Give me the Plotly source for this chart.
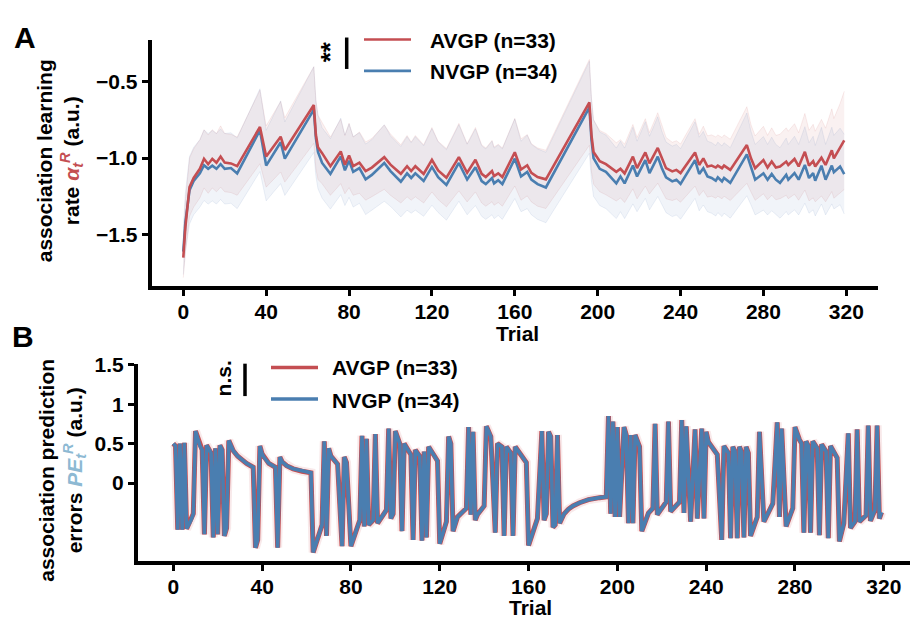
import numpy as np
import plotly.graph_objects as go

W, H = 910, 624

# ---------------- Panel A : association learning rate ----------------
a_trial = [0, 1, 3, 5, 8, 10, 12, 14, 16, 18, 20, 23, 26, 37, 40, 47, 49, 63, 64, 65,
           67, 71, 76, 78, 80, 82, 85, 88, 91, 97, 100, 105, 108, 110, 112, 116, 120, 123, 127, 133,
           137, 141, 144, 146, 149, 150, 152, 154, 160, 163, 166, 168, 171, 175, 196, 197, 198, 201, 204, 209,
           211, 213, 217, 219, 223, 225, 229, 231, 233, 236, 238, 240, 247, 249, 251, 253, 255, 257, 258, 260,
           261, 264, 272, 274, 276, 280, 282, 284, 286, 288, 291, 292, 295, 297, 300, 302, 304, 305, 308, 310,
           313, 314, 317, 319]
a_avgp = [-1.65, -1.45, -1.19, -1.13, -1.07, -1.005, -1.04, -1.005, -1.03, -0.99, -1.03, -1.035, -1.053, -0.797, -0.99, -0.861, -0.947, -0.654, -0.85, -0.93,
          -0.968, -1.053, -0.957, -1.043, -0.983, -1.053, -1.03, -1.085, -1.062, -0.994, -1.043, -1.103, -1.053, -1.085, -1.053, -1.103, -1.011, -1.081, -1.128, -0.994,
          -1.096, -1.011, -1.103, -1.124, -1.085, -1.118, -1.10, -1.124, -0.962, -1.075, -1.047, -1.096, -1.124, -1.139, -0.637, -0.85, -0.96, -1.02, -1.04, -1.09,
          -1.07, -1.10, -0.991, -1.066, -0.963, -1.034, -0.934, -1.002, -1.066, -1.087, -1.077, -1.098, -0.963, -1.045, -1.002, -1.055, -1.049, -1.062, -1.049, -1.066,
          -1.049, -1.077, -0.915, -1.002, -1.066, -1.013, -1.062, -1.023, -1.062, -1.055, -1.023, -1.045, -1.006, -1.055, -0.959, -1.049, -1.02, -1.055, -0.998, -1.045,
          -0.949, -1.002, -0.934, -0.885]
a_nvgp = [-1.61, -1.42, -1.21, -1.15, -1.10, -1.047, -1.07, -1.05, -1.07, -1.04, -1.07, -1.065, -1.10, -0.818, -1.049, -0.897, -1.004, -0.684, -0.87, -0.96,
          -1.032, -1.103, -0.989, -1.08, -1.017, -1.09, -1.065, -1.139, -1.11, -1.032, -1.085, -1.154, -1.10, -1.13, -1.10, -1.15, -1.058, -1.125, -1.175, -1.032,
          -1.14, -1.06, -1.15, -1.17, -1.13, -1.165, -1.145, -1.17, -1.004, -1.12, -1.09, -1.14, -1.17, -1.192, -0.669, -0.88, -1.00, -1.07, -1.09, -1.165,
          -1.12, -1.165, -1.049, -1.12, -1.013, -1.098, -0.991, -1.066, -1.126, -1.152, -1.141, -1.169, -1.013, -1.104, -1.066, -1.12, -1.13, -1.148, -1.126, -1.152,
          -1.13, -1.162, -0.976, -1.066, -1.141, -1.10, -1.141, -1.104, -1.141, -1.162, -1.109, -1.141, -1.098, -1.141, -1.045, -1.13, -1.098, -1.148, -1.05, -1.141,
          -1.049, -1.092, -1.055, -1.105]
a_avgp_sem = [0.13, 0.17, 0.19, 0.19, 0.19, 0.19, 0.19, 0.19, 0.19, 0.20, 0.19, 0.19, 0.19, 0.24, 0.20, 0.23, 0.21, 0.25, 0.22, 0.21,
              0.20, 0.19, 0.21, 0.19, 0.21, 0.19, 0.20, 0.19, 0.19, 0.21, 0.20, 0.19, 0.20, 0.19, 0.20, 0.19, 0.21, 0.19, 0.19, 0.22,
              0.19, 0.21, 0.19, 0.19, 0.20, 0.19, 0.19, 0.19, 0.22, 0.20, 0.20, 0.19, 0.19, 0.19, 0.28, 0.24, 0.21, 0.20, 0.20, 0.19,
              0.19, 0.19, 0.21, 0.20, 0.22, 0.20, 0.23, 0.21, 0.20, 0.19, 0.19, 0.19, 0.22, 0.20, 0.21, 0.20, 0.20, 0.20, 0.20, 0.20,
              0.20, 0.20, 0.25, 0.22, 0.21, 0.22, 0.21, 0.22, 0.21, 0.21, 0.22, 0.22, 0.23, 0.22, 0.25, 0.23, 0.24, 0.23, 0.25, 0.24,
              0.27, 0.26, 0.29, 0.32]
a_nvgp_sem = [0.15, 0.19, 0.22, 0.22, 0.22, 0.23, 0.23, 0.23, 0.23, 0.23, 0.23, 0.23, 0.23, 0.27, 0.23, 0.27, 0.24, 0.28, 0.25, 0.24,
              0.23, 0.23, 0.25, 0.23, 0.24, 0.23, 0.23, 0.23, 0.23, 0.25, 0.23, 0.23, 0.24, 0.23, 0.24, 0.23, 0.25, 0.23, 0.23, 0.25,
              0.23, 0.25, 0.23, 0.23, 0.24, 0.23, 0.23, 0.23, 0.26, 0.23, 0.24, 0.23, 0.23, 0.23, 0.30, 0.27, 0.25, 0.24, 0.24, 0.23,
              0.23, 0.23, 0.25, 0.23, 0.25, 0.24, 0.26, 0.24, 0.23, 0.23, 0.23, 0.23, 0.25, 0.24, 0.24, 0.23, 0.23, 0.23, 0.23, 0.23,
              0.23, 0.23, 0.27, 0.24, 0.23, 0.24, 0.23, 0.24, 0.23, 0.23, 0.24, 0.23, 0.24, 0.23, 0.25, 0.23, 0.24, 0.23, 0.25, 0.23,
              0.25, 0.24, 0.25, 0.26]

# ---------------- Panel B : association prediction errors ----------------
b_trial = [0, 1, 2, 3, 4, 5, 6, 8, 9, 10, 12, 13, 14, 15, 17, 18, 19, 20, 21, 22,
           23, 24, 25, 26, 27, 29, 31, 33, 36, 37, 38, 39, 40, 41, 43, 46, 47, 48, 49, 51,
           54, 58, 62, 63, 67, 68, 69, 70, 71, 74, 76, 77, 78, 80, 83, 84, 85, 86, 87, 88,
           90, 91, 92, 93, 96, 97, 98, 99, 100, 102, 103, 104, 107, 108, 109, 111, 112, 113, 114, 115,
           119, 120, 123, 124, 125, 126, 128, 132, 133, 134, 135, 136, 137, 140, 141, 143, 145, 146, 148, 149,
           150, 152, 153, 154, 156, 159, 160, 164, 166, 167, 168, 169, 170, 171, 172, 173, 174, 175, 176, 178,
           180, 183, 187, 192, 195, 196, 197, 198, 199, 200, 201, 203, 204, 205, 206, 207, 208, 210, 211, 214,
           216, 217, 218, 222, 223, 224, 228, 229, 230, 231, 233, 235, 236, 238, 239, 240, 241, 245, 247, 248,
           250, 251, 252, 253, 254, 255, 256, 257, 258, 259, 260, 263, 264, 266, 270, 272, 273, 274, 276, 279,
           280, 282, 283, 284, 285, 286, 287, 288, 290, 291, 292, 294, 295, 296, 299, 300, 302, 304, 305, 307,
           308, 309, 312, 313, 314, 316, 317, 318, 319]
b_avgp = [0.50, 0.47, -0.59, 0.50, -0.59, 0.51, -0.58, -0.47, -0.39, 0.66, 0.47, 0.42, -0.65, 0.48, 0.38, -0.69, 0.44, -0.65, 0.48, 0.42,
          -0.67, -0.57, 0.54, 0.46, 0.41, 0.34, 0.29, 0.25, 0.20, -0.82, -0.72, 0.47, 0.37, 0.32, 0.25, 0.20, -0.82, 0.33, 0.27, 0.22,
          0.18, 0.15, 0.13, -0.88, -0.53, 0.53, -0.67, 0.44, 0.34, 0.24, -0.80, 0.33, 0.26, -0.80, -0.53, -0.47, 0.60, -0.55, 0.56, -0.53,
          -0.47, 0.62, -0.51, -0.47, -0.34, 0.69, -0.45, -0.39, 0.66, 0.50, -0.61, 0.50, 0.36, -0.72, 0.42, 0.34, -0.73, 0.40, -0.69, 0.46,
          0.28, -0.77, -0.49, 0.59, 0.50, -0.61, -0.43, -0.32, 0.71, -0.40, 0.65, -0.47, -0.40, -0.29, 0.72, 0.59, -0.63, 0.50, 0.46, -0.67,
          0.46, 0.38, -0.67, 0.46, 0.38, 0.26, -0.79, -0.45, 0.66, -0.47, -0.39, 0.65, 0.59, -0.56, -0.53, 0.61, -0.51, -0.44, -0.39, -0.33,
          -0.29, -0.25, -0.21, -0.185, -0.175, 0.85, -0.39, 0.78, -0.43, 0.71, -0.43, 0.71, 0.61, -0.51, 0.61, -0.51, 0.61, 0.46, -0.61, -0.38,
          -0.32, 0.75, -0.40, -0.24, 0.78, -0.36, -0.24, 0.80, -0.38, 0.72, -0.49, 0.68, -0.45, 0.69, -0.45, 0.65, 0.52, 0.36, -0.72, 0.47,
          0.38, -0.70, 0.46, 0.40, -0.70, 0.46, 0.39, -0.69, 0.46, 0.38, -0.67, -0.43, 0.65, -0.49, -0.26, 0.77, -0.43, 0.69, -0.55, -0.32,
          0.71, 0.55, 0.50, -0.63, 0.53, 0.47, -0.63, 0.53, 0.44, -0.66, 0.49, 0.40, -0.70, 0.47, 0.32, -0.74, -0.51, 0.63, -0.57, -0.49,
          0.68, -0.49, -0.41, 0.73, -0.48, -0.34, 0.73, -0.45, -0.37]
b_nvgp = [0.50, 0.47, -0.59, 0.50, -0.59, 0.51, -0.58, -0.47, -0.39, 0.66, 0.47, 0.42, -0.65, 0.48, 0.38, -0.69, 0.44, -0.65, 0.48, 0.42,
          -0.67, -0.57, 0.54, 0.46, 0.41, 0.34, 0.29, 0.25, 0.20, -0.82, -0.72, 0.47, 0.37, 0.32, 0.25, 0.20, -0.82, 0.33, 0.27, 0.22,
          0.18, 0.15, 0.13, -0.88, -0.53, 0.53, -0.67, 0.44, 0.34, 0.24, -0.80, 0.33, 0.26, -0.80, -0.53, -0.47, 0.60, -0.55, 0.56, -0.53,
          -0.47, 0.62, -0.51, -0.47, -0.34, 0.69, -0.45, -0.39, 0.66, 0.50, -0.61, 0.50, 0.36, -0.72, 0.42, 0.34, -0.73, 0.40, -0.69, 0.46,
          0.28, -0.77, -0.49, 0.59, 0.50, -0.61, -0.43, -0.32, 0.71, -0.40, 0.65, -0.47, -0.40, -0.29, 0.72, 0.59, -0.63, 0.50, 0.46, -0.67,
          0.46, 0.38, -0.67, 0.46, 0.38, 0.26, -0.79, -0.45, 0.66, -0.47, -0.39, 0.65, 0.59, -0.56, -0.53, 0.61, -0.51, -0.44, -0.39, -0.33,
          -0.29, -0.25, -0.21, -0.185, -0.175, 0.85, -0.39, 0.78, -0.43, 0.71, -0.43, 0.71, 0.61, -0.51, 0.61, -0.51, 0.61, 0.46, -0.61, -0.38,
          -0.32, 0.75, -0.40, -0.24, 0.78, -0.36, -0.24, 0.80, -0.38, 0.72, -0.49, 0.68, -0.45, 0.69, -0.45, 0.65, 0.52, 0.36, -0.72, 0.47,
          0.38, -0.70, 0.46, 0.40, -0.70, 0.46, 0.39, -0.69, 0.46, 0.38, -0.67, -0.43, 0.65, -0.49, -0.26, 0.77, -0.43, 0.69, -0.55, -0.32,
          0.71, 0.55, 0.50, -0.63, 0.53, 0.47, -0.63, 0.53, 0.44, -0.66, 0.49, 0.40, -0.70, 0.47, 0.32, -0.74, -0.51, 0.63, -0.57, -0.49,
          0.68, -0.49, -0.41, 0.73, -0.48, -0.34, 0.73, -0.45, -0.37]

x_tickvals = [0, 40, 80, 120, 160, 200, 240, 280, 320]
a_ytickvals = [-1.5, -1.0, -0.5]
a_yticktext = ["\u22121.5", "\u22121.0", "\u22120.5"]
b_ytickvals = [0, 0.5, 1, 1.5]
b_yticktext = ["0", "0.5", "1", "1.5"]
group_names = ["AVGP (n=33)", "NVGP (n=34)"]

RED = "#c44e52"
BLUE = "#4a7eb0"
FONT = "Liberation Sans"


def px(x):
    return x / W


def py(y):
    return 1 - y / H


fig = go.Figure()

# bands for panel A
for mean, sem, rgba in [(a_avgp, a_avgp_sem, "196,78,82"), (a_nvgp, a_nvgp_sem, "76,114,176")]:
    m = np.array(mean)
    s = np.array(sem)
    fig.add_trace(go.Scatter(x=a_trial, y=m + s, mode="lines", line=dict(width=1, color=f"rgba({rgba},0.10)"),
                             showlegend=False, hoverinfo="skip", xaxis="x", yaxis="y"))
    fig.add_trace(go.Scatter(x=a_trial, y=m - s, mode="lines", line=dict(width=1, color=f"rgba({rgba},0.10)"),
                             fill="tonexty", fillcolor=f"rgba({rgba},0.08)",
                             showlegend=False, hoverinfo="skip", xaxis="x", yaxis="y"))

fig.add_trace(go.Scatter(x=a_trial, y=a_nvgp, mode="lines", line=dict(width=2.6, color=BLUE),
                         showlegend=False, xaxis="x", yaxis="y"))
fig.add_trace(go.Scatter(x=a_trial, y=a_avgp, mode="lines", line=dict(width=2.6, color=RED),
                         showlegend=False, xaxis="x", yaxis="y"))

# panel B
fig.add_trace(go.Scatter(x=b_trial, y=b_avgp, mode="lines", line=dict(width=9, color="rgba(196,78,82,0.12)"),
                         showlegend=False, hoverinfo="skip", xaxis="x2", yaxis="y2"))
fig.add_trace(go.Scatter(x=b_trial, y=b_avgp, mode="lines", line=dict(width=5, color=RED),
                         showlegend=False, xaxis="x2", yaxis="y2"))
fig.add_trace(go.Scatter(x=b_trial, y=b_nvgp, mode="lines", line=dict(width=3.6, color=BLUE),
                         showlegend=False, xaxis="x2", yaxis="y2"))

axis_common = dict(showgrid=False, zeroline=False, showline=True, linecolor="black", linewidth=4,
                   ticks="outside", ticklen=6, tickwidth=3, tickcolor="black",
                   tickfont=dict(family=FONT, size=21, color="black", weight="bold"))

fig.update_layout(
    width=W, height=H,
    margin=dict(l=0, r=0, t=0, b=0),
    paper_bgcolor="white", plot_bgcolor="white",
    showlegend=False,
    xaxis=dict(domain=[px(151.7), px(878)], range=[-15.25, 335.3], tickvals=x_tickvals,
               anchor="y", ticklabelstandoff=-2, **axis_common),
    yaxis=dict(domain=[py(280), py(30)], range=[-1.835, -0.233], tickvals=a_ytickvals,
               ticktext=a_yticktext, anchor="x", **axis_common),
    xaxis2=dict(domain=[px(138), 1.0], range=[-15.9, 331.8], tickvals=x_tickvals,
                anchor="y2", ticklabelstandoff=-2, **axis_common),
    yaxis2=dict(domain=[py(560), py(359.3)], range=[-0.99, 1.51], tickvals=b_ytickvals,
                ticktext=b_yticktext, anchor="x2", **axis_common),
)

ann = []


def text(x, y, s, size=21, angle=0, xanchor="center", color="black"):
    ann.append(dict(x=px(x), y=py(y), xref="paper", yref="paper", text=s, showarrow=False,
                    textangle=angle, xanchor=xanchor, yanchor="middle",
                    font=dict(family=FONT, size=size, color=color, weight="bold")))


text(25, 27, "A", size=30)
text(23, 331, "B", size=30)
text(517, 328, "Trial")
text(530, 607, "Trial")
text(60, 153, "association learning<br>rate <span style='color:#c44e52'><i>\u03b1</i><sub><i>t</i></sub><sup><i>R</i></sup></span> (a.u.)", angle=-90)
text(62, 467, "association prediction<br>errors <span style='color:#8db9d3'><i>PE</i><sub><i>t</i></sub><sup><i>R</i></sup></span> (a.u.)", angle=-90)
text(330, 42, "**", size=26, angle=-90)
text(223, 374, "n.s.", angle=-90)
text(428, 30, group_names[0], size=21, xanchor="left")
text(428, 62, group_names[1], size=21, xanchor="left")
text(330, 363, group_names[0], size=21, xanchor="left")
text(330, 396, group_names[1], size=21, xanchor="left")

shapes = [
    dict(type="line", xref="paper", yref="paper", x0=px(346.7), x1=px(346.7), y0=py(27), y1=py(59),
         line=dict(color="black", width=3.5)),
    dict(type="line", xref="paper", yref="paper", x0=px(245), x1=px(245), y0=py(359), y1=py(392),
         line=dict(color="black", width=3.5)),
    dict(type="line", xref="paper", yref="paper", x0=px(364), x1=px(411), y0=py(29), y1=py(29),
         line=dict(color=RED, width=2.6)),
    dict(type="line", xref="paper", yref="paper", x0=px(364), x1=px(411), y0=py(61), y1=py(61),
         line=dict(color=BLUE, width=2.6)),
    dict(type="line", xref="paper", yref="paper", x0=px(271), x1=px(318), y0=py(363), y1=py(363),
         line=dict(color=RED, width=3.5)),
    dict(type="line", xref="paper", yref="paper", x0=px(271), x1=px(318), y0=py(395), y1=py(395),
         line=dict(color=BLUE, width=3.5)),
]

fig.update_layout(annotations=ann, shapes=shapes)
fig.write_html("out.html", post_script="document.body.style.margin='0';document.body.style.overflow='hidden';",
               config={"displayModeBar": False})
